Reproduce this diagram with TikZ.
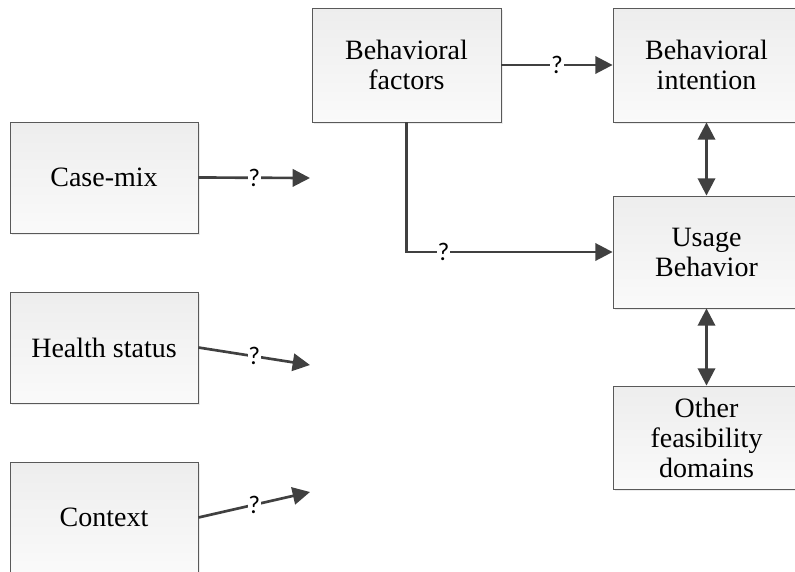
\documentclass[tikz,border=0pt]{standalone}
\usepackage{fontspec}
\setmainfont{Liberation Serif}
\newfontfamily\qfont{Carlito}
\usepackage{tikz}
\usetikzlibrary{arrows.meta,shadows}

\tikzset{
  factor/.style={draw=black!65, line width=0.6pt, top color=black!7, bottom color=black!2,
    drop shadow={shadow xshift=1.8pt, shadow yshift=-1.8pt, fill=black!15},
    align=center, inner sep=0pt, font=\fontsize{21}{22.5}\selectfont},
  link/.style={draw=black!75, line width=2pt, -{Triangle[length=13pt,width=13pt]}},
  biglink/.style={draw=black!75, line width=2pt, {Triangle[length=13pt,width=13pt]}-{Triangle[length=13pt,width=13pt]}},
  qmark/.style={fill=white, inner sep=0.5pt, font=\qfont\fontsize{19}{19}\selectfont}
}

\begin{document}
\begin{tikzpicture}[x=0.75pt,y=-0.75pt]
    \useasboundingbox (0,0) rectangle (795,571);
    % Draw the three input boxes on the left
    \node[factor, minimum width=141pt, minimum height=83.25pt] (casemix) at (104,177.5) {Case-mix};
    \node[factor, minimum width=141pt, minimum height=83.25pt] (health) at (104,347.5) {Health status};
    \node[factor, minimum width=141pt, minimum height=83.25pt] (context) at (104,517.5) {Context};
    % Draw the boxes of the behavior model
    \node[factor, minimum width=141.75pt, minimum height=85.5pt] (behfac) at (406.5,65) {Behavioral\\factors};
    \node[factor, minimum width=140.25pt, minimum height=85.5pt] (behint) at (706.5,65) {Behavioral\\intention};
    \node[factor, minimum width=140.25pt, minimum height=84pt] (usage) at (706.5,252) {Usage\\Behavior};
    \node[factor, minimum width=140.25pt, minimum height=77.25pt] (other) at (706.5,437.5) {Other\\feasibility\\domains};
    % Free ends of the left arrows
    \coordinate (cmend) at (310,178);
    \coordinate (hsend) at (310,365);
    \coordinate (ctxend) at (310,492);
    % Draw the arrows
    \draw[link] (casemix.east) -- node[qmark] {?} (cmend);
    \draw[link] (health.east) -- node[qmark] {?} (hsend);
    \draw[link] (context.east) -- node[qmark] {?} (ctxend);
    \draw[link] (behfac.east) -- node[qmark] {?} (behint.west);
    \draw[link] (behfac.south) |- node[qmark, pos=0.59] {?} (usage.west);
    \draw[biglink] (behint.south) -- (usage.north);
    \draw[biglink] (usage.south) -- (other.north);
\end{tikzpicture}
\end{document}
